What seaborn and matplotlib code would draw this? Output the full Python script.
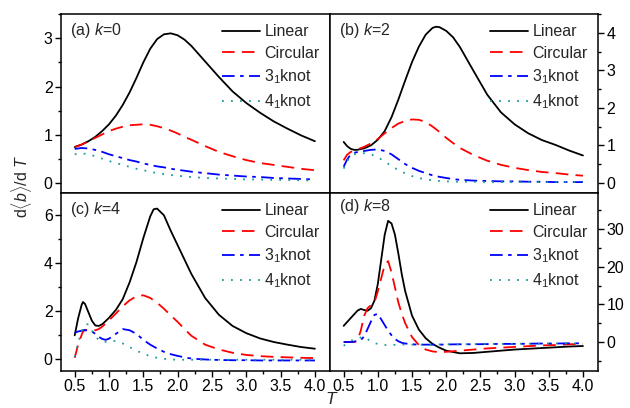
import numpy as np
import pandas as pd
import matplotlib
matplotlib.use("Agg")
import matplotlib.pyplot as plt
from matplotlib.ticker import MultipleLocator
import seaborn as sns

# ---------------- data ----------------
series_names = ["Linear", "Circular", "3$_1$knot", "4$_1$knot"]

# panel (a) k=0
T_a = [0.5, 0.6, 0.7, 0.8, 0.9, 1.0, 1.1, 1.2, 1.3, 1.4, 1.5, 1.6, 1.7, 1.8, 1.9, 2.0,
       2.1, 2.2, 2.4, 2.6, 2.8, 3.0, 3.2, 3.4, 3.6, 3.8, 4.0]
lin_a = [0.75, 0.80, 0.87, 0.96, 1.08, 1.22, 1.40, 1.62, 1.88, 2.18, 2.50, 2.78, 2.98, 3.08, 3.10, 3.06,
         2.97, 2.84, 2.52, 2.20, 1.90, 1.66, 1.46, 1.28, 1.13, 0.99, 0.87]
cir_a = [0.75, 0.80, 0.87, 0.94, 1.01, 1.08, 1.13, 1.17, 1.20, 1.21, 1.22, 1.21, 1.18, 1.14, 1.09, 1.03,
         0.96, 0.90, 0.77, 0.65, 0.56, 0.48, 0.42, 0.38, 0.34, 0.30, 0.27]
k3_a = [0.71, 0.73, 0.72, 0.69, 0.65, 0.60, 0.56, 0.52, 0.48, 0.45, 0.41, 0.38, 0.35, 0.33, 0.30, 0.28,
        0.26, 0.24, 0.21, 0.18, 0.16, 0.14, 0.13, 0.11, 0.10, 0.09, 0.08]
k4_a = [0.60, 0.62, 0.60, 0.56, 0.51, 0.46, 0.42, 0.38, 0.34, 0.30, 0.27, 0.24, 0.21, 0.19, 0.17, 0.16,
        0.14, 0.13, 0.11, 0.10, 0.09, 0.08, 0.08, 0.07, 0.07, 0.06, 0.06]

# panel (b) k=2
T_b = [0.5, 0.55, 0.6, 0.65, 0.7, 0.8, 0.9, 1.0, 1.1, 1.2, 1.3, 1.4, 1.5, 1.6, 1.7, 1.8, 1.85, 1.9,
       2.0, 2.1, 2.2, 2.4, 2.6, 2.8, 3.0, 3.2, 3.4, 3.6, 3.8, 4.0]
lin_b = [1.09, 0.98, 0.91, 0.88, 0.88, 0.92, 1.00, 1.15, 1.38, 1.75, 2.22, 2.73, 3.22, 3.63, 3.95, 4.13, 4.16, 4.15,
         4.05, 3.88, 3.62, 2.98, 2.35, 1.88, 1.56, 1.32, 1.14, 1.01, 0.86, 0.73]
cir_b = [0.60, 0.75, 0.82, 0.86, 0.89, 0.96, 1.05, 1.17, 1.32, 1.46, 1.58, 1.65, 1.69, 1.68, 1.62, 1.50, 1.43, 1.36,
         1.20, 1.06, 0.93, 0.74, 0.59, 0.48, 0.40, 0.34, 0.29, 0.26, 0.22, 0.19]
k3_b = [0.43, 0.62, 0.75, 0.80, 0.82, 0.85, 0.88, 0.89, 0.85, 0.76, 0.63, 0.50, 0.40, 0.32, 0.26, 0.20, 0.18, 0.16,
        0.13, 0.10, 0.08, 0.06, 0.05, 0.04, 0.04, 0.03, 0.03, 0.02, 0.02, 0.02]
k4_b = [0.38, 0.58, 0.70, 0.76, 0.78, 0.79, 0.76, 0.68, 0.57, 0.45, 0.34, 0.25, 0.18, 0.13, 0.09, 0.07, 0.06, 0.05,
        0.04, 0.03, 0.03, 0.03, 0.02, 0.02, 0.02, 0.02, 0.02, 0.02, 0.02, 0.02]

# panel (c) k=4
T_c = [0.5, 0.55, 0.6, 0.62, 0.65, 0.7, 0.75, 0.8, 0.85, 0.9, 0.95, 1.0, 1.1, 1.2, 1.3, 1.4, 1.5, 1.6,
       1.65, 1.7, 1.8, 1.9, 2.0, 2.1, 2.2, 2.4, 2.6, 2.8, 3.0, 3.2, 3.4, 3.6, 3.8, 4.0]
lin_c = [0.99, 1.70, 2.25, 2.38, 2.30, 1.95, 1.60, 1.40, 1.38, 1.45, 1.58, 1.72, 2.05, 2.50, 3.20, 4.05, 5.05, 5.95,
         6.25, 6.28, 6.00, 5.35, 4.75, 4.15, 3.55, 2.55, 1.85, 1.38, 1.08, 0.86, 0.71, 0.60, 0.50, 0.43]
cir_c = [0.05, 0.60, 1.00, 1.15, 1.22, 1.20, 1.18, 1.20, 1.25, 1.35, 1.48, 1.62, 1.90, 2.20, 2.45, 2.62, 2.66, 2.55,
         2.45, 2.35, 2.10, 1.82, 1.55, 1.25, 0.97, 0.60, 0.40, 0.26, 0.17, 0.12, 0.09, 0.07, 0.05, 0.04]
k3_c = [1.09, 1.15, 1.18, 1.20, 1.20, 1.18, 1.15, 1.05, 0.93, 0.84, 0.80, 0.85, 1.05, 1.25, 1.20, 1.05, 0.80, 0.60,
        0.52, 0.44, 0.30, 0.20, 0.13, 0.07, 0.02, -0.02, -0.04, -0.05, -0.05, -0.06, -0.06, -0.06, -0.06, -0.06]
k4_c = [0.08, 0.70, 1.10, 1.30, 1.45, 1.45, 1.20, 0.95, 0.80, 0.72, 0.72, 0.76, 0.75, 0.65, 0.50, 0.35, 0.22, 0.12,
        0.08, 0.05, 0.01, -0.02, -0.03, -0.03, -0.03, -0.03, -0.03, -0.03, -0.03, -0.03, -0.03, -0.03, -0.03, -0.03]

# panel (d) k=8
T_d = [0.5, 0.55, 0.6, 0.65, 0.7, 0.75, 0.8, 0.85, 0.9, 0.95, 1.0, 1.05, 1.1, 1.15, 1.2, 1.25, 1.3, 1.35,
       1.4, 1.5, 1.6, 1.7, 1.8, 1.9, 2.0, 2.2, 2.4, 2.6, 2.8, 3.0, 3.2, 3.4, 3.6, 3.8, 4.0]
lin_d = [4.3, 5.3, 6.3, 7.3, 8.3, 8.8, 8.5, 8.3, 9.0, 11.0, 15.5, 22.0, 28.5, 32.2, 31.5, 28.5, 23.5, 18.0,
         13.5, 7.0, 3.3, 1.0, -0.5, -1.5, -2.3, -3.0, -2.9, -2.6, -2.3, -2.0, -1.8, -1.6, -1.4, -1.2, -1.06]
cir_d = [0.0, 0.0, 0.0, 0.0, 0.3, 3.0, 7.0, 9.0, 9.8, 10.5, 13.5, 17.0, 20.5, 21.5, 18.5, 14.5, 10.5, 7.5,
         5.0, 1.3, -0.8, -2.0, -2.5, -2.7, -2.6, -2.3, -2.0, -1.7, -1.5, -1.3, -1.1, -0.9, -0.8, -0.6, -0.5]
k3_d = [0.0, 0.0, 0.0, 0.1, 0.2, 0.5, 1.5, 3.5, 5.5, 7.2, 7.5, 6.0, 4.5, 3.0, 1.8, 0.8, 0.2, -0.2,
        -0.4, -0.6, -0.7, -0.7, -0.7, -0.7, -0.65, -0.6, -0.6, -0.55, -0.5, -0.5, -0.45, -0.4, -0.4, -0.35, -0.35]
k4_d = [-1.0, -0.3, 0.3, 0.6, 0.9, 1.2, 1.4, 0.8, 0.1, -0.3, -0.5, -0.7, -0.8, -0.8, -0.8, -0.75, -0.75, -0.7,
        -0.7, -0.7, -0.7, -0.7, -0.65, -0.65, -0.6, -0.6, -0.55, -0.5, -0.5, -0.45, -0.45, -0.4, -0.4, -0.35, -0.35]

panel_titles = ["(a) ", "(b) ", "(c) ", "(d) "]
k_values = ["0", "2", "4", "8"]
x_ticks = [0.5, 1.0, 1.5, 2.0, 2.5, 3.0, 3.5, 4.0]

# ---------------- style ----------------
sns.set_style("ticks")
plt.rcParams["font.family"] = ["Liberation Sans", "DejaVu Sans"]
plt.rcParams["mathtext.fontset"] = "custom"
plt.rcParams["mathtext.rm"] = "Liberation Sans"
plt.rcParams["mathtext.it"] = "Liberation Sans:italic"
plt.rcParams["mathtext.bf"] = "Liberation Sans:bold"

colors = ["#000000", "#ff0000", "#0000ff", "#1a9a9a"]
styles = ["-", (0, (7, 4)), (0, (7, 3, 2, 3)), (0, (1, 4))]
FS = 11.5

fig = plt.figure(figsize=(6.3, 4.08), dpi=100)
positions = [
    [0.0968, 0.527, 0.4270, 0.4387],
    [0.5238, 0.527, 0.4254, 0.4387],
    [0.0968, 0.0907, 0.4270, 0.4363],
    [0.5238, 0.0907, 0.4254, 0.4363],
]
ylims = [(-0.2, 3.5), (-0.27, 4.5), (-0.5, 6.93), (-7.7, 39.6)]
ymaj = [1, 1, 2, 10]

panels = [
    (T_a, [lin_a, cir_a, k3_a, k4_a]),
    (T_b, [lin_b, cir_b, k3_b, k4_b]),
    (T_c, [lin_c, cir_c, k3_c, k4_c]),
    (T_d, [lin_d, cir_d, k3_d, k4_d]),
]

for i, (T, ys) in enumerate(panels):
    ax = fig.add_axes(positions[i])
    for name, y, c, ls in zip(series_names, ys, colors, styles):
        df = pd.DataFrame({"T": T, "v": y})
        sns.lineplot(data=df, x="T", y="v", ax=ax, color=c, linestyle=ls,
                     linewidth=1.3, label=name)
    ax.set_xlim(0.3, 4.22)
    ax.set_ylim(*ylims[i])
    ax.set_xlabel("")
    ax.set_ylabel("")
    ax.yaxis.set_major_locator(MultipleLocator(ymaj[i]))
    ax.yaxis.set_minor_locator(MultipleLocator(ymaj[i] / 2))
    ax.xaxis.set_major_locator(MultipleLocator(0.5))
    ax.xaxis.set_minor_locator(MultipleLocator(0.25))
    ax.set_xticks(x_ticks)
    ax.tick_params(which="both", direction="out", width=1, labelsize=FS, colors="black")
    ax.tick_params(which="major", length=4)
    ax.tick_params(which="minor", length=2)
    for s in ax.spines.values():
        s.set_visible(True)
        s.set_linewidth(1.1)
        s.set_color("black")
    if i < 2:
        ax.tick_params(axis="x", which="both", bottom=False, labelbottom=False)
    else:
        ax.xaxis.set_major_formatter(matplotlib.ticker.FormatStrFormatter("%.1f"))
        ax.tick_params(axis="x", pad=2)
    if i % 2 == 1:
        ax.yaxis.tick_right()
        ax.tick_params(axis="y", which="both", left=False, labelleft=False,
                       right=True, labelright=True, pad=2)
    else:
        ax.tick_params(axis="y", pad=2)
    ax.text(0.035, 0.905 if i != 3 else 0.925,
            panel_titles[i] + "$k$=" + k_values[i],
            transform=ax.transAxes, fontsize=FS, va="center", ha="left")
    leg = ax.legend(loc="upper right", bbox_to_anchor=(1.0, 1.0), frameon=False,
                    fontsize=FS, handlelength=2.4, handletextpad=0.25,
                    labelspacing=0.4, borderaxespad=0.45, borderpad=0.2)

fig.text(332 / 630, 1 / 408, "$T$", fontsize=FS + 1, ha="center", va="bottom")
fig.text(22 / 630, 0.544, r"d$\langle b\rangle$/d $T$", fontsize=FS, rotation=90,
         ha="center", va="center")

fig.savefig("out.png", dpi=100)
